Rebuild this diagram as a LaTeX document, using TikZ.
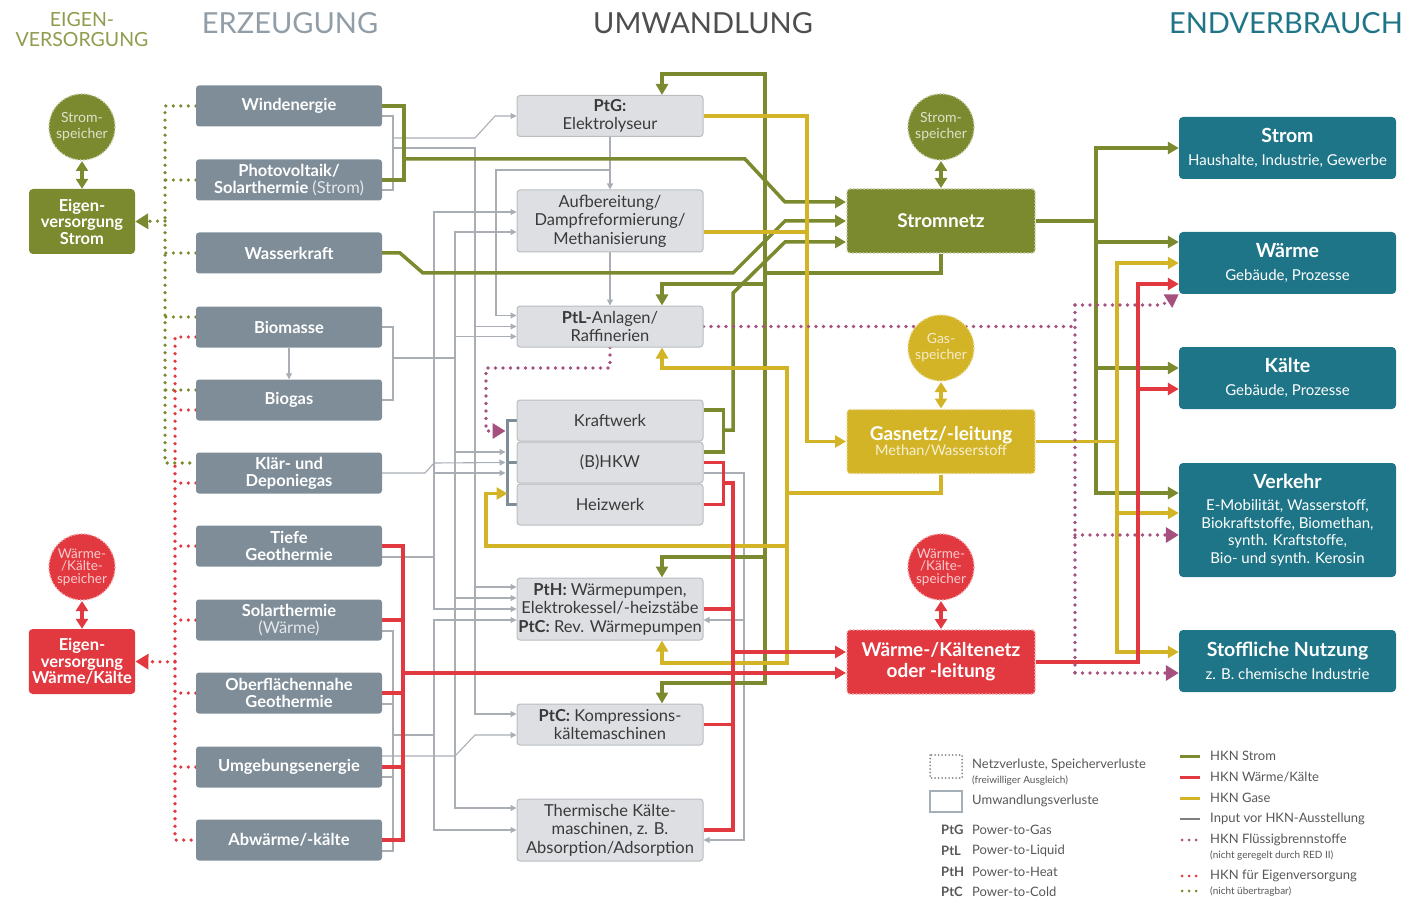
\documentclass[tikz,border=0pt]{standalone}
\usepackage{fontspec}
\setmainfont{Lato}
\usepackage{tikz}
\usetikzlibrary{arrows.meta}
\usetikzlibrary{backgrounds}
\definecolor{cgreen}{HTML}{7B8A2E}
\definecolor{cred}{HTML}{E2383F}
\definecolor{cyellow}{HTML}{D3B426}
\definecolor{cteal}{HTML}{1E7587}
\definecolor{cslate}{HTML}{7E8D98}
\definecolor{cbox}{HTML}{DDDFE2}
\definecolor{cboxline}{HTML}{B9BDC2}
\definecolor{cinput}{HTML}{A9AEB4}
\definecolor{cpurple}{HTML}{A5507F}
\definecolor{ctext}{HTML}{3A3A3A}
\newcommand{\fsz}[2]{\fontsize{#1}{#2}\selectfont}
\newcommand{\lite}[1]{{\mdseries\color{white!80!cslate}#1}}
\tikzset{%
  gen/.style = {rectangle,rounded corners=3pt,fill=cslate,text=white,
        font=\bfseries\fsz{16.5}{17},align=center,inner sep=1pt,
        minimum width=186pt,minimum height=41pt},
  conv/.style = {rectangle,rounded corners=3pt,fill=cbox,draw=cboxline,
        line width=1pt,text=ctext,font=\fsz{16.5}{18.5},align=center,
        inner sep=1pt,minimum width=186pt,minimum height=41pt},
  netz/.style = {rectangle,rounded corners=3pt,fill=#1,draw=#1!45!white,
        dash pattern=on 0pt off 3.5pt,line cap=round,line width=2pt,
        text=white,align=center,minimum width=188pt,minimum height=64pt},
  spei/.style = {circle,fill=#1,draw=#1!45!white,dash pattern=on 0pt off 3.5pt,
        line cap=round,line width=2pt,text=#1!25!white,align=center,
        inner sep=0pt,minimum size=66pt,font=\fsz{14}{16}},
  eigen/.style = {rectangle,rounded corners=4pt,fill=#1,text=white,
        font=\bfseries\fsz{16.5}{16.5},align=center,minimum width=106pt,
        minimum height=65pt},
  endv/.style = {rectangle,rounded corners=4pt,fill=cteal,text=white,
        font=\fsz{15}{17.5},align=center,minimum width=217pt,
        minimum height=62pt},
  head/.style = {font=\fsz{29}{30},inner sep=0pt},
  leg/.style = {anchor=west,inner sep=0pt,text=ctext!85!white,font=\fsz{13}{14}},
  legs/.style = {leg,font=\fsz{10}{11}},
  legb/.style = {leg,font=\bfseries\fsz{13}{14}},
  gline/.style = {draw=cgreen,line width=3.5pt,>={Triangle[width=12pt,length=11pt]}},
  rline/.style = {gline,draw=cred},
  yline/.style = {gline,draw=cyellow},
  sline/.style = {line width=3.5pt,>={Triangle[width=12pt,length=10pt]}},
  iline/.style = {draw=cinput,line width=1.1pt,>={Triangle[width=6pt,length=6pt]}},
  pline/.style = {draw=cpurple,line width=3.6pt,dash pattern=on 0pt off 7.5pt,
        line cap=round,>={Triangle[width=15pt,length=13pt]}},
  gdot/.style = {pline,draw=cgreen},
  rdot/.style = {pline,draw=cred},
  brack/.style = {draw=cslate,line width=2.5pt}
}

\begin{document}
\begin{tikzpicture}[x=1pt,y=-1pt]
\useasboundingbox (0,0) rectangle (1405,901);
% headings
\node[font=\fsz{19.5}{20},text=cgreen!85!white,align=center,inner sep=0pt] (hEig) at (82,30) {EIGEN-\\VERSORGUNG};
\node[head,text=cslate!85!white] (hErz) at (290,23) {ERZEUGUNG};
\node[head,text=ctext!90!white] (hUmw) at (703,23) {UMWANDLUNG};
\node[head,text=cteal,anchor=east] (hEnd) at (1403,23) {ENDVERBRAUCH};

% Eigenversorgung
\node[spei=cgreen] (ssL) at (82,127) {Strom-\\speicher};
\node[eigen=cgreen] (eigS) at (82,221.5) {Eigen-\\versorgung\\Strom};
\node[spei=cred,font=\fsz{13.5}{12.5}] (wsL) at (82,567) {Wärme-\\/Kälte-\\speicher};
\node[eigen=cred] (eigW) at (82,661.5) {Eigen-\\versorgung\\Wärme/Kälte};

% Erzeugung
\node[gen] (wind) at (289,106) {Windenergie};
\node[gen] (pv) at (289,180) {Photovoltaik/\\Solarthermie \lite{(Strom)}};
\node[gen] (wasser) at (289,253) {Wasserkraft};
\node[gen] (biomasse) at (289,327) {Biomasse};
\node[gen] (biogas) at (289,400) {Biogas};
\node[gen] (klaer) at (289,473) {Klär- und\\Deponiegas};
\node[gen] (tiefe) at (289,546) {Tiefe\\Geothermie};
\node[gen] (solarw) at (289,620) {Solarthermie\\\lite{(Wärme)}};
\node[gen] (ober) at (289,693) {Oberflächennahe\\Geothermie};
\node[gen] (umgeb) at (289,767) {Umgebungsenergie};
\node[gen] (abw) at (289,840) {Abwärme/-kälte};

% Umwandlung
\node[conv] (ptg) at (610,116) {\textbf{PtG:}\\Elektrolyseur};
\node[conv,minimum height=62pt] (aufb) at (610,221) {Aufbereitung/\\Dampfreformierung/\\Methanisierung};
\node[conv] (ptl) at (610,326.5) {\textbf{PtL-}Anlagen/\\Raffinerien};
\node[conv] (kw) at (610,420.5) {Kraftwerk};
\node[conv] (bhkw) at (610,462.5) {(B)HKW};
\node[conv] (heiz) at (610,504.5) {Heizwerk};
\node[conv,minimum height=62pt] (pth) at (610,609) {\textbf{PtH:} Wärmepumpen,\\Elektrokessel/-heizstäbe\\\textbf{PtC:} Rev. Wärmepumpen};
\node[conv] (ptck) at (610,724.5) {\textbf{PtC:} Kompressions-\\kältemaschinen};
\node[conv,minimum height=62pt] (tkm) at (610,830) {Thermische Kälte-\\maschinen, z. B.\\Absorption/Adsorption};

% Netze und Speicher
\node[spei=cgreen] (ssM) at (941,127) {Strom-\\speicher};
\node[netz=cgreen,font=\bfseries\fsz{19}{21}] (stromnetz) at (941,221) {Stromnetz};
\node[spei=cyellow] (gsM) at (941,348) {Gas-\\speicher};
\node[netz=cyellow] (gasnetz) at (941,441.5) {{\bfseries\fsz{19}{21}Gasnetz/-leitung}\\{\fsz{14.5}{16}\color{white!80!cyellow}Methan/Wasserstoff}};
\node[spei=cred,font=\fsz{13.5}{12.5}] (wsM) at (941,567) {Wärme-\\/Kälte-\\speicher};
\node[netz=cred,font=\bfseries\fsz{19}{21}] (waermenetz) at (941,662) {Wärme-/Kältenetz\\oder -leitung};

% Endverbrauch
\node[endv] (strom) at (1287.5,148) {{\bfseries\fsz{19.5}{20}Strom}\\[6pt]Haushalte, Industrie, Gewerbe};
\node[endv] (waerme) at (1287.5,263) {{\bfseries\fsz{19.5}{20}Wärme}\\[6pt]Gebäude, Prozesse};
\node[endv] (kaelte) at (1287.5,378) {{\bfseries\fsz{19.5}{20}Kälte}\\[6pt]Gebäude, Prozesse};
\node[endv,minimum height=114pt] (verkehr) at (1287.5,520) {{\bfseries\fsz{19.5}{20}Verkehr}\\[5pt]E-Mobilität, Wasserstoff,\\Biokraftstoffe, Biomethan,\\synth. Kraftstoffe,\\Bio- und synth. Kerosin};
\node[endv] (stoff) at (1287.5,661) {{\bfseries\fsz{19.5}{20}Stoffliche Nutzung}\\[6pt]z. B. chemische Industrie};

\begin{scope}[on background layer]
% input lines
\coordinate (wj1) at (393,138);
\coordinate (wj2) at (393,148);
\coordinate (bj) at (393,358);
\coordinate (kj) at (434,463);
\coordinate (tj) at (393,735);
\draw[iline] ([yshift=-10pt]wind.east) -| (393,190) -- ([yshift=-10pt]pv.east);
\draw[iline,->] (wj1) -- (475,138) -- (495,116) -- (ptg.west);
\draw[iline,->] (wj2) -- (475,148) |- (ptl.west);
\draw[iline,->] (wj2) -- (475,148) |- ([yshift=22pt]pth.west);
\draw[iline,->] (wj2) -- (475,148) |- ([yshift=10.5pt]ptck.west);
\draw[iline,->] (ptg.south) -- (aufb.north);
\draw[iline,->] (ptg.south) ++(0,33) -| (496,200) |- ([yshift=11pt]ptl.west);
\draw[iline,->] (aufb.south) -- (ptl.north);
\draw[iline,->] (biomasse.south) -- (biogas.north);
\draw[iline] (biomasse.east) -| (bj) |- (biogas.east);
\draw[iline,->] (bj) -- (455,358) |- ([yshift=-11pt]aufb.west);
\draw[iline,->] (bj) -- (455,358) |- ([yshift=-10pt]ptl.west);
\draw[iline,->] (bj) -- (455,358) |- ([xshift=-11pt,yshift=10.5pt]bhkw.west);
\draw[iline,->] (bj) -- (455,358) |- ([yshift=11pt]pth.west);
\draw[iline,->] (bj) -- (455,358) |- ([yshift=22pt]tkm.west);
\draw[iline,->] (klaer.east) -- (425,473) -- (kj) -- ([xshift=-11pt]bhkw.west);
\draw[iline,->] (kj) |- ([yshift=9pt]aufb.west);
\draw[iline,->] (kj) |- ([xshift=-11pt,yshift=-10.5pt]bhkw.west);
\draw[iline,->] ([yshift=-11pt]tiefe.east) -| (kj) |- (pth.west);
\draw[iline] ([yshift=-11pt]solarw.east) -| (tj) |- ([yshift=-11pt]abw.east);
\draw[iline] ([yshift=-11pt]ober.east) -- ++(11,0);
\draw[iline] ([yshift=-10pt]umgeb.east) -- ++(11,0);
\draw[iline,->] (tj) -- (434,735) |- ([yshift=-11pt]pth.west);
\draw[iline,->] (tj) -- (434,735) |- (tkm.west);
\draw[iline,->] ([yshift=11pt]umgeb.east) -- (455,756) -- (475,735) -- ([yshift=-10.5pt]ptck.west);
\draw[iline,->] ([yshift=-10.5pt]bhkw.east) -| (744,600) |- ([yshift=-11pt]pth.east);
\draw[iline,->] ([yshift=-10.5pt]bhkw.east) -| (744,600) |- ([yshift=-10pt]tkm.east);
\draw[brack] (kw.west) -- ++(-9,0) |- (heiz.west);
\draw[brack] (bhkw.west) -- ++(-9,0);

% Strom
\draw[gline] (wind.east) -- ++(22,0) |- (pv.east);
\draw[gline,->] (wind.east) ++(22,53) -- (745,159) -- (785,202) -- ([yshift=19pt]stromnetz.west);
\draw[gline,->] (wasser.east) -- (400,253) -- (423,273) -- (733,273) -- (785,221) -- (stromnetz.west);
\draw[gline] ([yshift=10.5pt]kw.east) -- ++(20,0) |- ([yshift=10.5pt]bhkw.east);
\draw[gline,->] ([yshift=10.5pt]kw.east) ++(20,20) -- (733,430) -- (733,293) -- (785,242) -- ([yshift=-21pt]stromnetz.west);
\draw[gline,->] (stromnetz.south) |- (765,273) -- (765,74) -| ([xshift=52pt]ptg.north);
\draw[gline,->] (stromnetz.south) |- (765,273) |- (662,284) -- ([xshift=52pt]ptl.north);
\draw[gline,->] (stromnetz.south) |- (765,273) |- (662,557) -- ([xshift=52pt]pth.north);
\draw[gline,->] (stromnetz.south) |- (765,273) |- (662,683) -- ([xshift=52pt]ptck.north);
\draw[gline,->] (stromnetz.east) -- (1096,221) |- (strom.west);
\draw[gline,->] (stromnetz.east) -- (1096,221) |- ([yshift=21pt]waerme.west);
\draw[gline,->] (stromnetz.east) -- (1096,221) |- ([yshift=10pt]kaelte.west);
\draw[gline,->] (stromnetz.east) -- (1096,221) |- ([yshift=27pt]verkehr.west);

% Gase
\draw[yline,->] (ptg.east) -| (807,300) |- (gasnetz.west);
\draw[yline] ([yshift=-11pt]aufb.east) -- (807,232);
\draw[yline,->] (gasnetz.south) |- (787,493) -- (787,368) -| ([xshift=52pt]ptl.south);
\draw[yline,->] (gasnetz.south) |- (787,493) -- (787,546) -| (486,520) |- ([xshift=-9pt,yshift=11pt]heiz.west);
\draw[yline,->] (gasnetz.south) |- (787,493) -- (787,663) -| ([xshift=52pt]pth.south);
\draw[yline,->] (gasnetz.east) -- (1117,441.5) |- (waerme.west);
\draw[yline,->] (gasnetz.east) -- (1117,441.5) |- ([yshift=7pt]verkehr.west);
\draw[yline,->] (gasnetz.east) -- (1117,441.5) |- ([yshift=9pt]stoff.west);

% Waerme/Kaelte
\draw[rline] (tiefe.east) -- ++(21,0) |- (abw.east);
\draw[rline] (solarw.east) -- ++(21,0);
\draw[rline] (ober.east) -- ++(21,0);
\draw[rline] (umgeb.east) -- ++(21,0);
\draw[rline,->] (ober.east) ++(21,-20) -- ([yshift=-11pt]waermenetz.west);
\draw[rline] (bhkw.east) -- ++(20,0) |- (heiz.east);
\draw[rline] (bhkw.east) ++(20,20.5) -- (733,483) |- (tkm.east);
\draw[rline] (pth.east) -- (733,609);
\draw[rline] (ptck.east) -- (733,724.5);
\draw[rline,->] (bhkw.east) ++(20,20.5) -- (733,483) |- ([yshift=10pt]waermenetz.west);
\draw[rline,->] (waermenetz.east) -| (1138,400) |- ([yshift=-21pt]waerme.west);
\draw[rline,->] (waermenetz.east) -| (1138,400) |- ([yshift=-11pt]kaelte.west);

% Speicher
\draw[sline,draw=cgreen,<->] (ssL) -- (eigS);
\draw[sline,draw=cred,<->] (wsL) -- (eigW);
\draw[sline,draw=cgreen,<->] (ssM) -- (stromnetz);
\draw[sline,draw=cyellow,<->] (gsM) -- (gasnetz);
\draw[sline,draw=cred,<->] (wsM) -- (waermenetz);

% Fluessigbrennstoffe
\coordinate (pa) at (1075,305);
\coordinate (pb) at (1075,535);
\coordinate (pc) at (1075,673);
\draw[pline] (ptl.east) -- (1075,326.5);
\draw[pline] (pa) -- (pc);
\draw[pline,->] (pa) -- (1162,305) -- (waerme.south west);
\draw[pline,->] (pb) -- ([yshift=-15pt]verkehr.west);
\draw[pline,->] (pc) -- ([yshift=-12pt]stoff.west);
\draw[pline,->] (ptl.south) |- (486,368) -- (486,431) -- ([xshift=-11pt,yshift=-10.5pt]kw.west);

% Eigenversorgung
\coordinate (gd) at (165,221);
\coordinate (rd) at (175,662);
\draw[gdot] (wind.west) -| (165,463) -- ([yshift=10pt]klaer.west);
\draw[gdot] (pv.west) -- ++(-31,0);
\draw[gdot] (wasser.west) -- ++(-31,0);
\draw[gdot] ([yshift=10pt]biomasse.west) -- ++(-31,0);
\draw[gdot] ([yshift=10pt]biogas.west) -- ++(-31,0);
\draw[gdot,->] (gd) -- (eigS.east);
\draw[rdot] ([yshift=-10pt]biomasse.west) -| (175,840) -- (abw.west);
\draw[rdot] ([yshift=-10pt]biogas.west) -- ++(-21,0);
\draw[rdot] ([yshift=-10pt]klaer.west) -- ++(-21,0);
\draw[rdot] (tiefe.west) -- ++(-21,0);
\draw[rdot] (solarw.west) -- ++(-21,0);
\draw[rdot] (ober.west) -- ++(-21,0);
\draw[rdot] (umgeb.west) -- ++(-21,0);
\draw[rdot,->] (rd) -- (eigW.east);
\end{scope}

% Legende
\draw[cinput!80!black,line width=2pt,dash pattern=on 0pt off 3.5pt,line cap=round] (930,755) rectangle (962,778);
\node[leg] (lNetz) at (972,765) {Netzverluste, Speicherverluste};
\node[legs] (lNetz2) at (972,781) {(freiwilliger Ausgleich)};
\draw[cslate!70!white,line width=1.6pt] (930,791) rectangle (962,812);
\node[leg] (lUmw) at (972,801) {Umwandlungsverluste};
\node[legb] (lPtG) at (941,830) {PtG};
\node[leg] (lPtGt) at (972,830) {Power-to-Gas};
\node[legb] (lPtL) at (941,851) {PtL};
\node[leg] (lPtLt) at (972,851) {Power-to-Liquid};
\node[legb] (lPtH) at (941,872) {PtH};
\node[leg] (lPtHt) at (972,872) {Power-to-Heat};
\node[legb] (lPtC) at (941,892) {PtC};
\node[leg] (lPtCt) at (972,892) {Power-to-Cold};
\draw[gline,line width=3pt] (1180,756) -- (1200,756);
\node[leg] (lS) at (1210,756) {HKN Strom};
\draw[rline,line width=3pt] (1180,777) -- (1200,777);
\node[leg] (lW) at (1210,777) {HKN Wärme/Kälte};
\draw[yline,line width=3pt] (1180,798) -- (1200,798);
\node[leg] (lG) at (1210,798) {HKN Gase};
\draw[ctext!65!white,line width=1.4pt] (1180,819) -- (1200,819);
\node[leg] (lI) at (1210,819) {Input vor HKN-Ausstellung};
\draw[pline,line width=3pt,dash pattern=on 0pt off 7pt] (1182,840) -- (1198,840);
\node[leg] (lF) at (1210,840) {HKN Flüssigbrennstoffe};
\node[legs] (lF2) at (1210,856) {(nicht geregelt durch RED II)};
\draw[rdot,line width=3pt,dash pattern=on 0pt off 7pt] (1182,876) -- (1198,876);
\node[leg] (lE) at (1210,876) {HKN für Eigenversorgung};
\draw[gdot,line width=3pt,dash pattern=on 0pt off 7pt] (1182,891) -- (1198,891);
\node[legs] (lE2) at (1210,892) {(nicht übertragbar)};
\end{tikzpicture}
\end{document}
